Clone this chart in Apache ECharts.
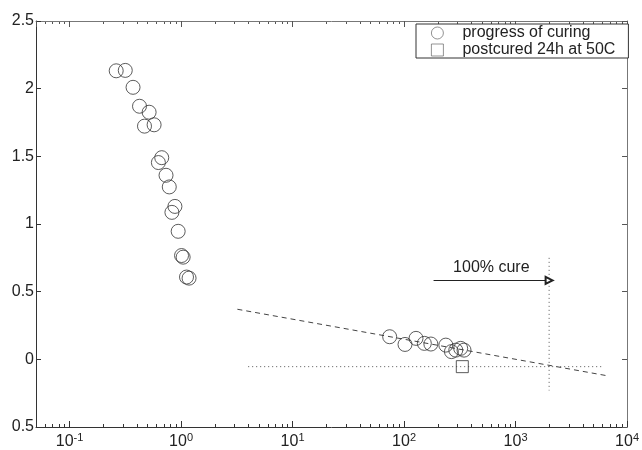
<!DOCTYPE html>
<html>
<head>
<meta charset="utf-8">
<script src="https://cdn.jsdelivr.net/npm/echarts@6/dist/echarts.min.js"></script>
<style>
  html, body { margin: 0; padding: 0; background: #fff; }
  #chart { width: 642px; height: 450px; }
</style>
</head>
<body>
<div id="chart"></div>
<script>
// Measured value during curing, against time in hours (log axis)
const curingTime = [0.262, 0.316, 0.371, 0.424, 0.517, 0.470, 0.573, 0.671, 0.626, 0.733,
  0.784, 0.881, 0.828, 0.942, 1.01, 1.044, 1.119, 1.18,
  74.3, 102, 128, 152, 174, 237, 266, 291, 322, 345];
const curingValue = [2.132, 2.135, 2.01, 1.87, 1.826, 1.723, 1.733, 1.49, 1.454, 1.36,
  1.274, 1.13, 1.086, 0.946, 0.767, 0.755, 0.608, 0.60,
  0.167, 0.11, 0.155, 0.118, 0.113, 0.105, 0.057, 0.068, 0.081, 0.068];

// Sample postcured 24h at 50C
const postcuredTime = [333];
const postcuredValue = [-0.054];

// Dashed trend through the late-cure points
const trendTime = [3.2, 6500];
const trendValue = [0.37, -0.12];

// Dotted level of the postcured sample
const levelTime = [4, 6000];
const levelValue = [-0.054, -0.054];

// Dotted marker where the trend reaches that level (full cure)
const fullCureTime = [2000, 2000];
const fullCureValue = [0.75, -0.23];

// "100% cure" arrow
const arrowTime = [184, 2000];
const arrowValue = [0.583, 0.583];
const arrowText = '100% cure';

// Axes
const xMin = 0.05, xMax = 10000;
const xTickExponents = [-1, 0, 1, 2, 3, 4];
const yTicks = [-0.5, 0, 0.5, 1, 1.5, 2, 2.5];
const yTickLabels = ['0.5', '0', '0.5', '1', '1.5', '2', '2.5'];

const seriesNames = ['progress of curing', 'postcured 24h at 50C'];
const legendIcons = ['circle', 'rect'];

const FONT = "'Liberation Sans', Arial, Helvetica, sans-serif";
const INK = '#222';

const zip = (xs, ys) => xs.map((x, i) => [x, ys[i]]);

function xLabel(v) {
  const lg = Math.log10(v);
  const e = Math.round(lg);
  if (Math.abs(lg - e) > 1e-6 || xTickExponents.indexOf(e) < 0) return '';
  return '{b|10}{s|' + e + '}';
}

function yLabel(v) {
  for (let i = 0; i < yTicks.length; i++) {
    if (Math.abs(yTicks[i] - v) < 1e-9) return yTickLabels[i];
  }
  return '';
}

const chart = echarts.init(document.getElementById('chart'), null, { renderer: 'canvas' });

const logAxisBase = {
  type: 'log',
  logBase: 10,
  min: xMin,
  max: xMax,
  splitLine: { show: false },
  minorTick: { show: false }
};

const option = {
  animation: false,
  backgroundColor: '#fff',
  textStyle: { fontFamily: FONT, color: INK },
  grid: { left: 36, right: 11, top: 21, bottom: 21 },
  legend: {
    data: seriesNames.map((n, i) => ({ name: n, icon: legendIcons[i] })),
    orient: 'vertical',
    left: 416,
    top: 24,
    padding: [1, 13, 0, 15],
    itemGap: 1,
    itemWidth: 12,
    itemHeight: 12,
    borderColor: '#333',
    borderWidth: 1,
    backgroundColor: '#fff',
    itemStyle: { borderColor: '#555', borderWidth: 0.8 },
    textStyle: { fontFamily: FONT, fontSize: 16, color: INK, lineHeight: 16, padding: [0, 0, 0, 14] }
  },
  xAxis: [
    Object.assign({}, logAxisBase, {
      position: 'bottom',
      axisLine: { show: true, onZero: false, lineStyle: { color: '#333', width: 1 } },
      axisTick: { show: true, inside: true, length: 6, lineStyle: { color: '#333' } },
      axisLabel: {
        show: true,
        margin: 5,
        formatter: xLabel,
        showMinLabel: false,
        rich: {
          b: { fontFamily: FONT, fontSize: 16, lineHeight: 18, color: INK, verticalAlign: 'bottom' },
          s: { fontFamily: FONT, fontSize: 11, lineHeight: 9, color: INK, verticalAlign: 'top' }
        }
      }
    }),
    Object.assign({}, logAxisBase, {
      position: 'top',
      axisLine: { show: true, onZero: false, lineStyle: { color: '#777', width: 1 } },
      axisTick: { show: true, inside: true, length: 6, lineStyle: { color: '#555' } },
      axisLabel: { show: false }
    })
  ],
  yAxis: [
    {
      type: 'value',
      min: -0.5,
      max: 2.5,
      interval: 0.5,
      position: 'left',
      splitLine: { show: false },
      axisLine: { show: true, onZero: false, lineStyle: { color: '#333', width: 1 } },
      axisTick: { show: true, inside: true, length: 5, lineStyle: { color: '#333' } },
      axisLabel: { margin: 2, fontFamily: FONT, fontSize: 16, color: INK, formatter: yLabel }
    },
    {
      type: 'value',
      min: -0.5,
      max: 2.5,
      interval: 0.5,
      position: 'right',
      splitLine: { show: false },
      axisLine: { show: true, onZero: false, lineStyle: { color: '#777', width: 1 } },
      axisTick: { show: true, inside: true, length: 5, lineStyle: { color: '#555' } },
      axisLabel: { show: false }
    }
  ],
  series: [
    {
      name: 'trend',
      type: 'line',
      data: zip(trendTime, trendValue),
      showSymbol: false,
      silent: true,
      lineStyle: { color: '#444', width: 1, type: [5, 4] },
      z: 1
    },
    {
      name: 'level',
      type: 'line',
      data: zip(levelTime, levelValue),
      showSymbol: false,
      silent: true,
      lineStyle: { color: '#555', width: 1, type: [1, 3] },
      z: 1
    },
    {
      name: 'full cure',
      type: 'line',
      data: zip(fullCureTime, fullCureValue),
      showSymbol: false,
      silent: true,
      lineStyle: { color: '#555', width: 1, type: [1, 3] },
      z: 1,
      markLine: {
        silent: true,
        symbol: ['none', 'emptyTriangle'],
        symbolSize: 7,
        lineStyle: { color: '#222', width: 1, type: 'solid' },
        label: {
          show: true,
          formatter: arrowText,
          position: 'insideMiddleTop',
          distance: 5,
          fontFamily: FONT,
          fontSize: 16,
          color: INK
        },
        data: [[
          { coord: [arrowTime[0], arrowValue[0]] },
          { coord: [arrowTime[1], arrowValue[1]] }
        ]]
      }
    },
    {
      name: seriesNames[0],
      type: 'scatter',
      data: zip(curingTime, curingValue),
      symbol: 'circle',
      symbolSize: 14,
      itemStyle: { color: 'rgba(255,255,255,0)', borderColor: '#333', borderWidth: 1 },
      z: 3
    },
    {
      name: seriesNames[1],
      type: 'scatter',
      data: zip(postcuredTime, postcuredValue),
      symbol: 'rect',
      symbolSize: 12,
      itemStyle: { color: 'rgba(255,255,255,0)', borderColor: '#333', borderWidth: 1 },
      z: 3
    }
  ]
};

chart.setOption(option);

// Minor ticks of the log axis (2..9 within each decade), bottom and top edges
function drawMinorTicks() {
  const yBottom = chart.convertToPixel({ yAxisIndex: 0 }, -0.5);
  const yTop = chart.convertToPixel({ yAxisIndex: 0 }, 2.5);
  const elements = [];
  for (let d = -2; d < 4; d++) {
    for (let k = 2; k <= 9; k++) {
      const v = k * Math.pow(10, d);
      if (v <= xMin || v >= xMax) continue;
      const px = Math.round(chart.convertToPixel({ xAxisIndex: 0 }, v)) + 0.5;
      elements.push({
        type: 'line', silent: true,
        shape: { x1: px, y1: yBottom, x2: px, y2: yBottom - 3 },
        style: { stroke: '#333', lineWidth: 1 }
      });
      elements.push({
        type: 'line', silent: true,
        shape: { x1: px, y1: yTop, x2: px, y2: yTop + 3 },
        style: { stroke: '#555', lineWidth: 1 }
      });
    }
  }
  chart.setOption({ graphic: elements });
}
drawMinorTicks();
</script>
</body>
</html>
